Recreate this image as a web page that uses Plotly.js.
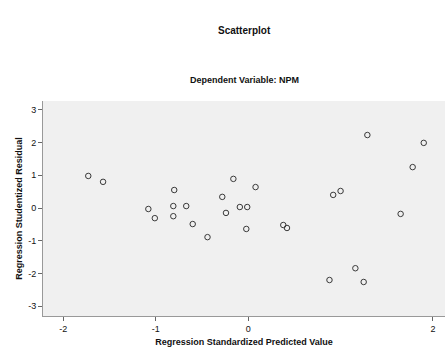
<!DOCTYPE html>
<html>
<head>
<meta charset="utf-8">
<script src="https://cdn.plot.ly/plotly-3.0.1.min.js"></script>
<style>html,body{margin:0;padding:0;background:#fff;}#chart{width:447px;height:353px;}</style>
</head>
<body>
<div id="chart"></div>
<script>
// Regression Standardized Predicted Value
var predicted = [-1.73, -1.57, -1.08, -1.01, -0.80, -0.81, -0.81, -0.67, -0.60, -0.44,
                 -0.28, -0.24, -0.16, -0.09, -0.01, -0.02, 0.08, 1.29, 1.90, 1.78,
                 0.92, 1.00, 0.38, 0.42, 1.65, 0.88, 1.16, 1.25];
// Regression Studentized Residual
var residual = [0.98, 0.80, -0.03, -0.31, 0.55, 0.06, -0.25, 0.06, -0.49, -0.89,
                0.34, -0.15, 0.89, 0.03, 0.03, -0.64, 0.64, 2.23, 1.99, 1.25,
                0.40, 0.52, -0.52, -0.61, -0.18, -2.20, -1.84, -2.26];
var xTicks = [-2, -1, 0, 2];
var yTicks = [3, 2, 1, 0, -1, -2, -3];

var trace = {
  x: predicted, y: residual, type: 'scatter', mode: 'markers',
  marker: {symbol: 'circle-open', size: 5.5, color: '#3a3a3a', line: {width: 1}},
  hoverinfo: 'skip'
};
var layout = {
  width: 447, height: 353,
  margin: {l: 43, r: 2, t: 101, b: 37},
  paper_bgcolor: '#ffffff', plot_bgcolor: '#f0f0f0',
  font: {family: 'Liberation Sans, Arial, sans-serif', size: 9, color: '#111'},
  showlegend: false,
  annotations: [
    {text: '<b>Scatterplot</b>', xref: 'paper', yref: 'paper', x: 0.5, y: 1, yshift: 78, showarrow: false, font: {size: 10}},
    {text: '<b>Dependent Variable: NPM</b>', xref: 'paper', yref: 'paper', x: 0.5, y: 1, yshift: 28, showarrow: false, font: {size: 9}}
  ],
  xaxis: {
    range: [-2.22, 2.13], tickvals: xTicks, ticktext: xTicks.map(String),
    showgrid: false, zeroline: false, showline: true, linecolor: '#999', linewidth: 1,
    ticks: 'outside', ticklen: 4, tickcolor: '#666', tickfont: {size: 9},
    title: {text: '<b>Regression Standardized Predicted Value</b>', font: {size: 9}, standoff: 5}
  },
  yaxis: {
    range: [-3.3, 3.27], tickvals: yTicks, ticktext: yTicks.map(String),
    showgrid: false, zeroline: false, showline: true, linecolor: '#999', linewidth: 1,
    ticks: 'outside', ticklen: 4, tickcolor: '#666', tickfont: {size: 9},
    title: {text: '<b>Regression Studentized Residual</b>', font: {size: 9}, standoff: 4}
  }
};
Plotly.newPlot('chart', [trace], layout, {staticPlot: true, displayModeBar: false});
</script>
</body>
</html>
